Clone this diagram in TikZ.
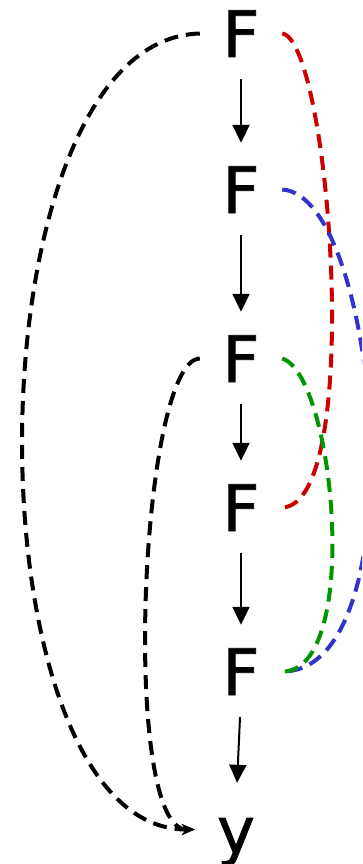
\documentclass[tikz,border=0pt]{standalone}
\usepackage{fontspec}
\setmainfont{DejaVu Sans}
\newfontfamily\lblfont{DejaVu Sans}[BoldFont=DejaVu Sans, BoldFeatures={FakeBold=1.2}]
\usetikzlibrary{arrows.meta}
\definecolor{cred}{RGB}{204,0,0}
\definecolor{cblue}{RGB}{51,51,204}
\definecolor{cgreen}{RGB}{0,150,0}
\begin{document}
\begin{tikzpicture}[x=1pt,y=-1pt,
  lbl/.style={inner sep=0pt, minimum width=82pt, text height=47pt, text depth=0pt,
    anchor=base, font=\lblfont\bfseries\fontsize{64}{64}\selectfont},
  down/.style={line width=2pt, -{Triangle[width=17pt,length=18pt]},
    shorten <=22pt, shorten >=23pt},
  curvy/.style={line width=4pt, dash pattern=on 14pt off 8pt},
  tip/.style={-{Stealth[length=13pt,width=11pt]}}]
\useasboundingbox (0,0) rectangle (362,864);
\clip (0,0) rectangle (362,864);
\node[lbl] (F1) at (241,57) {F};
\node[lbl] (F2) at (241,213) {F};
\node[lbl] (F3) at (241,382) {F};
\node[lbl] (F4) at (241,531) {F};
\node[lbl] (F5) at (241,695) {F};
\node[lbl] (Y) at (236,853) {y};
\draw[down] (F1.south) -- (F2.north);
\draw[down] (F2.south) -- (F3.north);
\draw[down] (F3.south) -- (F4.north);
\draw[down] (F4.south) -- (F5.north);
\draw[down] (F5.south) -- (Y.north);
\draw[curvy, cred] (F1.east) .. controls (330,40) and (365,505) .. (F4.east);
\draw[curvy, cblue] (F2.east) .. controls (380,195) and (419,672) .. (F5.east);
\draw[curvy, cgreen] (F3.east) .. controls (335,375) and (362,672) .. (F5.east);
\draw[curvy, tip] (F1.west) .. controls (-35,40) and (-35,830) .. (Y.west);
\draw[curvy, tip] (F3.west) .. controls (140,360) and (120,830) .. (Y.west);
\end{tikzpicture}
\end{document}
